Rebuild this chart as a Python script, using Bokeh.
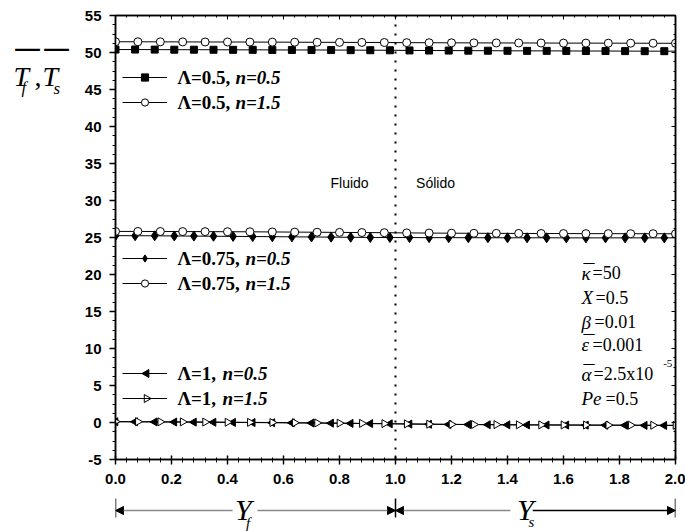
from bokeh.plotting import figure
from bokeh.models import (Range1d, LinearAxis, SingleIntervalTicker, NumeralTickFormatter,
                          CustomJSTickFormatter, Span, Label, Arrow, NormalHead, Legend, LegendItem)
from bokeh.layouts import column, row
from bokeh.embed import file_html
from bokeh.resources import INLINE
import math

# ---------------- data ----------------
x_filled = [0.00, 0.07, 0.14, 0.21, 0.28, 0.35, 0.42, 0.49, 0.56, 0.63, 0.70, 0.77, 0.84, 0.91, 0.98,
            1.05, 1.12, 1.19, 1.26, 1.33, 1.40, 1.47, 1.54, 1.61, 1.68, 1.75, 1.82, 1.89, 1.96, 2.00]
x_open = [0.00, 0.08, 0.16, 0.24, 0.32, 0.40, 0.48, 0.56, 0.64, 0.72, 0.80, 0.88, 0.96,
          1.04, 1.12, 1.20, 1.28, 1.36, 1.44, 1.52, 1.60, 1.68, 1.76, 1.84, 1.92, 2.00]

lam05_n05 = [50.40, 50.40, 50.39, 50.38, 50.38, 50.37, 50.36, 50.36, 50.35, 50.34, 50.34, 50.33, 50.32, 50.31, 50.30,
             50.28, 50.27, 50.26, 50.25, 50.24, 50.23, 50.22, 50.22, 50.21, 50.20, 50.20, 50.19, 50.18, 50.18, 50.18]
lam05_n15 = [51.45, 51.45, 51.44, 51.43, 51.42, 51.42, 51.41, 51.40, 51.39, 51.38, 51.37, 51.36, 51.35,
             51.33, 51.32, 51.31, 51.30, 51.29, 51.29, 51.28, 51.27, 51.27, 51.26, 51.26, 51.25, 51.25]
lam075_n05 = [25.25, 25.24, 25.23, 25.21, 25.19, 25.17, 25.15, 25.13, 25.11, 25.09, 25.07, 25.05, 25.03, 25.01, 25.00,
              24.99, 24.98, 24.98, 24.97, 24.97, 24.96, 24.96, 24.96, 24.95, 24.95, 24.95, 24.95, 24.95, 24.95, 24.95]
lam075_n15 = [25.82, 25.82, 25.81, 25.80, 25.79, 25.78, 25.77, 25.75, 25.73, 25.71, 25.69, 25.67, 25.65,
              25.62, 25.60, 25.58, 25.57, 25.56, 25.55, 25.54, 25.53, 25.52, 25.52, 25.51, 25.51, 25.50]
lam1_n05 = [0.10, 0.09, 0.08, 0.06, 0.05, 0.03, 0.01, -0.01, -0.03, -0.05, -0.07, -0.09, -0.12, -0.15, -0.18,
            -0.21, -0.24, -0.26, -0.28, -0.30, -0.32, -0.33, -0.34, -0.35, -0.36, -0.37, -0.38, -0.39, -0.40, -0.40]
lam1_n15 = [0.12, 0.11, 0.09, 0.08, 0.06, 0.04, 0.02, 0.00, -0.03, -0.06, -0.09, -0.12, -0.15,
            -0.19, -0.22, -0.25, -0.27, -0.29, -0.31, -0.32, -0.33, -0.34, -0.35, -0.36, -0.37, -0.38]

x_interval = 0.2
y_interval = 5

SERIF = "Liberation Serif"
SANS = "Liberation Sans"
MAIN_H = 494
LEFT_W = 70

# ---------------- main plot ----------------
p = figure(width=685 - LEFT_W, height=MAIN_H, x_range=Range1d(0, 2), y_range=Range1d(-5, 55),
           output_backend="svg", toolbar_location=None, title=None,
           min_border_left=115 - LEFT_W, min_border_right=10, min_border_top=15, min_border_bottom=35)
p.xgrid.visible = False
p.ygrid.visible = False
p.outline_line_color = "black"
p.outline_line_width = 1.5

xt = SingleIntervalTicker(interval=x_interval, num_minor_ticks=5)
yt = SingleIntervalTicker(interval=y_interval, num_minor_ticks=4)

for ax in p.xaxis:
    ax.ticker = xt
    ax.formatter = NumeralTickFormatter(format="0.0")
    ax.major_tick_in = 4
    ax.major_tick_out = 5
    ax.minor_tick_in = 2
    ax.minor_tick_out = 3
    ax.major_label_standoff = 9
for ax in p.yaxis:
    ax.ticker = yt
    ax.formatter = NumeralTickFormatter(format="0")
    ax.major_tick_in = 0
    ax.major_tick_out = 6
    ax.minor_tick_in = 0
    ax.minor_tick_out = 3
    ax.major_label_standoff = 8
for ax in list(p.xaxis) + list(p.yaxis):
    ax.axis_line_width = 1.5
    ax.major_tick_line_width = 1.5
    ax.minor_tick_line_width = 1
    ax.major_label_text_font = SANS
    ax.major_label_text_font_style = "bold"
    ax.major_label_text_font_size = "15px"
    ax.major_label_text_color = "black"

blank = CustomJSTickFormatter(code="return ''")
top = LinearAxis(ticker=xt, formatter=blank, major_tick_in=4, major_tick_out=0,
                 minor_tick_in=2, minor_tick_out=0, major_label_standoff=0, axis_line_width=1.5)
right = LinearAxis(ticker=yt, formatter=blank, major_tick_in=4, major_tick_out=0,
                   minor_tick_in=2, minor_tick_out=0, major_label_standoff=0, axis_line_width=1.5)
p.add_layout(top, "above")
p.add_layout(right, "right")

p.add_layout(Span(location=1.0, dimension="height", line_color="black", line_dash="2 7", line_width=2))

def series(xs, ys, marker, fill, size, angle=0.0, skip_last=False):
    lr = p.line(xs, ys, line_color="black", line_width=1)
    mx = xs[:-1] if skip_last else xs
    my = ys[:-1] if skip_last else ys
    sr = p.scatter(mx, my, marker=marker, size=size, angle=angle,
                   fill_color=fill, line_color="black", line_width=1)
    return lr, sr

L_ANG = math.pi / 2
R_ANG = -math.pi / 2
r1 = series(x_filled, lam05_n05, "square", "black", 7, skip_last=True)
r2 = series(x_open, lam05_n15, "circle", "white", 8)
r3 = series(x_filled, lam075_n05, "diamond", "black", 10, skip_last=True)
r4 = series(x_open, lam075_n15, "circle", "white", 8)
r5 = series(x_filled, lam1_n05, "triangle", "black", 8, angle=L_ANG, skip_last=True)
r6 = series(x_open, lam1_n15, "triangle", "white", 8, angle=R_ANG)

def legend(items, loc):
    lg = Legend(items=[LegendItem(label=" ", renderers=list(r)) for r in items], location=loc,
                padding=0, margin=0, spacing=7, glyph_width=45, glyph_height=18, label_height=18,
                label_standoff=0, border_line_alpha=0, background_fill_alpha=0,
                label_text_font_size="1px")
    p.add_layout(lg)

legend([r1, r2], (7, 348))
legend([r3, r4], (7, 167))
legend([r5[:1], r6[:1]], (7, 52))
# triangle samples (legend drawing ignores marker rotation)
p.scatter([0.111], [6.62], marker="triangle", size=8, angle=L_ANG, fill_color="black", line_color="black")
p.scatter([0.111], [3.24], marker="triangle", size=8, angle=R_ANG, fill_color="white", line_color="black")

def lab(fig, x, y, text, size, style="normal", font=SERIF, align="left", baseline="middle", xoff=0, yoff=0):
    fig.add_layout(Label(x=x, y=y, text=text, text_font_size=size, text_font_style=style,
                         text_font=font, text_align=align, text_baseline=baseline,
                         x_offset=xoff, y_offset=yoff, text_color="black"))

leg = [(46.62, "\u039b=0.5, ", "n=0.5", 58), (43.24, "\u039b=0.5, ", "n=1.5", 58),
       (22.16, "\u039b=0.75, ", "n=0.5", 68), (18.78, "\u039b=0.75, ", "n=1.5", 68),
       (6.62, "\u039b=1, ", "n=0.5", 45), (3.24, "\u039b=1, ", "n=1.5", 45)]
for yy, a, b, off in leg:
    lab(p, 0.221, yy, a, "19px", "bold")
    lab(p, 0.221, yy, b, "19px", "bold italic", xoff=off)

lab(p, 0.836, 32.3, "Fluido", "14px", font=SANS, align="center")
lab(p, 1.143, 32.3, "S\u00f3lido", "14px", font=SANS, align="center")

# parameters (row centre, symbol, bar?, value, value-left px)
params = [(20.14, "\u03ba", True, "=50", 592), (16.89, "X", False, "=0.5", 595),
          (13.58, "\u03b2", False, "=0.01", 594), (10.54, "\u03b5", True, "=0.001", 592),
          (6.49, "\u03b1", True, "=2.5x10", 593), (3.24, "Pe", False, "=0.5", 605)]
for yy, s, bar, v, vx in params:
    lab(p, 1.664, yy, s, "19px", "italic")
    if bar:
        lab(p, 1.664, yy, "\u00af", "22px", xoff=2, yoff=2)
    lab(p, (vx - 115) / 280, yy, v, "18px")
lab(p, 1.956, 8.0, "-5", "11px")

# ---------------- left label panel ----------------
lf = figure(width=LEFT_W, height=MAIN_H, x_range=Range1d(0, LEFT_W), y_range=Range1d(MAIN_H, 0),
            output_backend="svg", toolbar_location=None, title=None, min_border=0,
            x_axis_location=None, y_axis_location=None, outline_line_color=None)
lf.grid.visible = False
lab(lf, 13, 68, "T", "28px", "italic")
lab(lf, 15, 60, "\u00af", "48px")
lab(lf, 21, 80, "f", "17px", "italic")
lab(lf, 34, 68, ",", "28px")
lab(lf, 42, 68, "T", "28px", "italic")
lab(lf, 44, 60, "\u00af", "48px")
lab(lf, 53, 81, "s", "17px", "italic")

# ---------------- bottom Y_f / Y_s panel ----------------
BOT_H = 531 - MAIN_H
bf = figure(width=685, height=BOT_H, x_range=p.x_range, y_range=Range1d(BOT_H, 0),
            output_backend="svg", toolbar_location=None, title=None,
            min_border_left=115, min_border_right=10, min_border_top=0, min_border_bottom=0,
            x_axis_location=None, y_axis_location=None, outline_line_color=None)
bf.grid.visible = False
yl = 16
def arr(x0, x1, color):
    bf.add_layout(Arrow(x_start=x0, y_start=yl, x_end=x1, y_end=yl, line_color=color, line_width=1.5,
                        end=NormalHead(size=8, fill_color="black", line_color="black")))
arr(0.418, 0.0, "#888888")
arr(0.507, 1.0, "#888888")
arr(1.41, 1.0, "#888888")
arr(1.49, 2.0, "black")
for xb in [0.0, 1.0, 2.0]:
    bf.add_layout(Arrow(x_start=xb, y_start=4, x_end=xb, y_end=23, line_color="black",
                        line_width=1.5, end=None))
lab(bf, 0.427, 14.5, "Y", "30px", "italic")
lab(bf, 0.466, 28, "f", "15px", "italic")
lab(bf, 1.434, 14.5, "Y", "30px", "italic")
lab(bf, 1.475, 27, "s", "15px", "italic")

layout = column(row(lf, p), bf)
open("out.html", "w").write(file_html(layout, INLINE))
